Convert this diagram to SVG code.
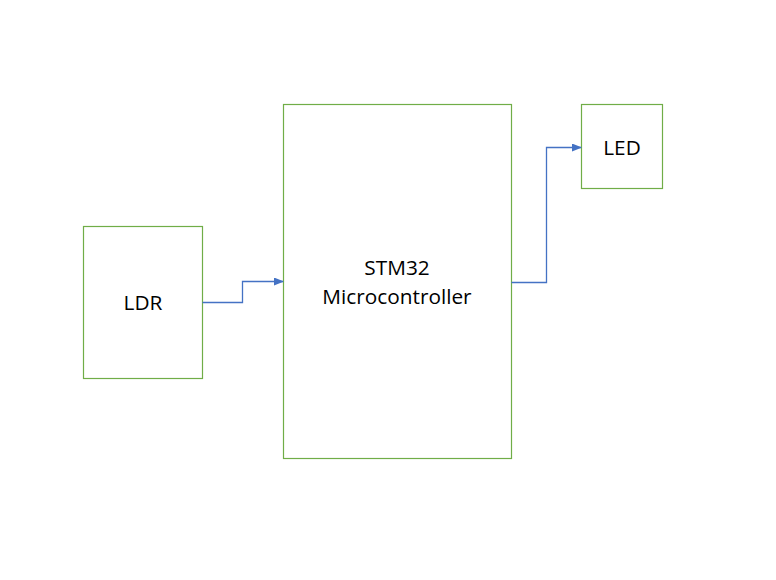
<svg xmlns="http://www.w3.org/2000/svg" width="776" height="580" viewBox="0 0 776 580">
<style>
.box{fill:#ffffff;stroke:#70AD47;stroke-width:1.2}
.lbl{font-family:"Open Sans","Liberation Sans",sans-serif;font-size:20.8px;fill:#000;text-anchor:middle;dominant-baseline:central}
.conn{fill:none;stroke:#4472C4;stroke-width:1.3}
</style>
<defs>
<marker id="arr" markerWidth="10" markerHeight="8" refX="9" refY="4" orient="auto" markerUnits="userSpaceOnUse">
<path d="M0,0 L10,4 L0,8 z" fill="#4472C4"/>
</marker>
</defs>
<rect width="776" height="580" fill="#ffffff"/>
<g id="ldr">
<rect class="box" x="83.5" y="226.5" width="119" height="152"/>
<text class="lbl" x="143" y="302">LDR</text>
</g>
<g id="stm32">
<rect class="box" x="283.5" y="104.5" width="228" height="354"/>
<text class="lbl" x="397" y="267">STM32</text>
<text class="lbl" x="397" y="296">Microcontroller</text>
</g>
<g id="led">
<rect class="box" x="581.5" y="104.5" width="81" height="84"/>
<text class="lbl" x="622" y="147">LED</text>
</g>
<g id="connectors">
<polyline class="conn" points="202.5,302.5 242.5,302.5 242.5,281.5 283,281.5" marker-end="url(#arr)"/>
<polyline class="conn" points="511.5,282.5 546.5,282.5 546.5,147.5 581,147.5" marker-end="url(#arr)"/>
</g>
</svg>
